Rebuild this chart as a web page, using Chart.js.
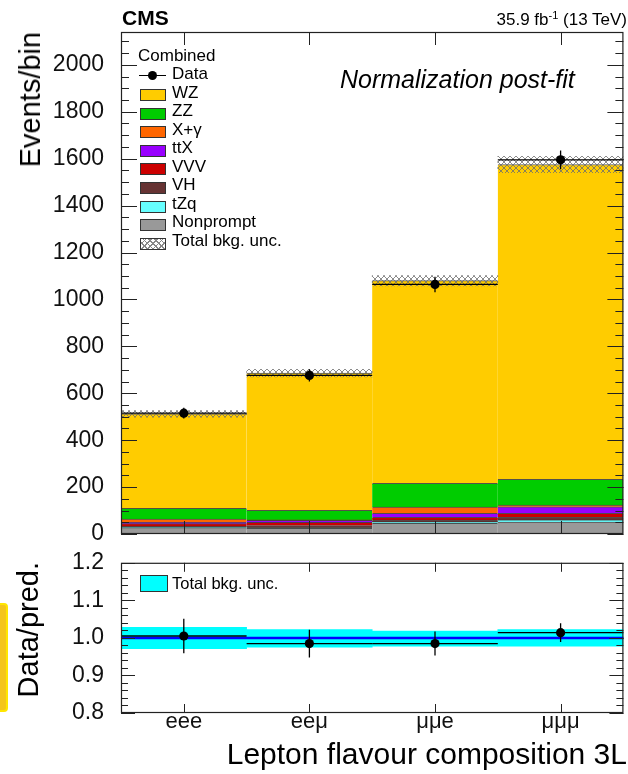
<!DOCTYPE html>
<html>
<head>
<meta charset="utf-8">
<script src="https://cdn.jsdelivr.net/npm/chart.js@4.4.1/dist/chart.umd.min.js"></script>
<style>
  html, body { margin: 0; padding: 0; background: #fff; }
  #wrap { position: relative; width: 628px; height: 774px; overflow: hidden; font-family: "Liberation Sans", Arial, sans-serif; color: #000; }
  canvas { position: absolute; left: 0; }
  .txt { position: absolute; white-space: nowrap; }
  .vtitle { position: absolute; writing-mode: vertical-rl; transform: rotate(180deg); font-size: 29px; line-height: 29px; white-space: nowrap; }
  #legend { position: absolute; left: 138px; top: 46.5px; font-size: 17px; }
  #legend .row { position: relative; height: 18.56px; line-height: 18.56px; padding-left: 34px; }
  #legend .row.head { padding-left: 0; }
  #legend .box { position: absolute; left: 2px; top: 5.7px; width: 24px; height: 10px; border: 1px solid #333; }
  #legend .dline { position: absolute; left: 1px; top: 9.5px; width: 27px; height: 1.5px; background: #000; }
  #legend .dot { position: absolute; left: 10px; top: 5.5px; width: 9px; height: 9px; border-radius: 50%; background: #000; }
  .hatch { background-color: #fff;
    background-image: repeating-linear-gradient(45deg, #888 0 1px, transparent 1px 4px),
                      repeating-linear-gradient(-45deg, #888 0 1px, transparent 1px 4px); }
</style>
</head>
<body>
<div id="wrap">
  <canvas id="main" width="628" height="560" style="top:0"></canvas>
  <canvas id="ratio" width="628" height="234" style="top:540px"></canvas>

  <div class="txt" style="left:122px; top:7px; font-size:21px; line-height:21px; font-weight:bold;">CMS</div>
  <div class="txt" style="right:1px; top:11px; font-size:17px; line-height:17px;">35.9 fb<sup style="font-size:11px; vertical-align:6px; line-height:0">-1</sup> (13 TeV)</div>
  <div class="txt" style="left:340px; top:67px; font-size:25px; line-height:25px; font-style:italic;">Normalization post-fit</div>

  <div class="vtitle" style="left:16px; top:32px;">Events/bin</div>
  <div class="vtitle" style="left:14px; top:562px;">Data/pred.</div>
  <div class="txt" style="right:1px; top:739px; font-size:30px; line-height:30px;">Lepton flavour composition 3L</div>

  <div id="legend"></div>

  <div style="position:absolute; left:140px; top:575px; width:26px; height:15px; border:1px solid #333; background:#00ffff;"></div>
  <div class="txt" style="left:172px; top:574.5px; font-size:16.5px; line-height:16.5px;">Total bkg. unc.</div>

  <div style="position:absolute; left:-7px; top:603px; width:11px; height:105px; border:2px solid #ffe600; border-radius:4px; background:#f4c51c;"></div>
</div>

<script>
// bins
const bins = ['eee', 'eeμ', 'μμe', 'μμμ'];

// stacked backgrounds (events per bin), bottom to top
const nonprompt = [27, 24, 45, 51];
const tzq = [2, 2, 7, 9];
const vh = [5, 10, 8, 11];
const vvv = [10, 14, 11, 17];
const ttx = [6, 8, 17, 28];
const xgamma = [14, 2, 27, 7];
const zz = [45, 41, 101, 110];
const wz = [403, 585, 864, 1342];

// data
const dataCounts = [515, 676, 1064, 1595];
const dataErr = [23, 26, 33, 40];

// total background uncertainty band
const bkgLo = [498, 670, 1058, 1540];
const bkgHi = [526, 702, 1102, 1610];

// ratio panel
const ratio = [1.005, 0.985, 0.985, 1.014];
const ratioErr = [0.046, 0.037, 0.032, 0.025];
const ratioBandLo = [0.971, 0.975, 0.978, 0.978];
const ratioBandHi = [1.028, 1.022, 1.018, 1.022];

// axis ticks
const yTicks = [0, 200, 400, 600, 800, 1000, 1200, 1400, 1600, 1800, 2000];
const ratioTicks = [0.8, 0.9, 1.0, 1.1, 1.2];

// stack order, bottom first; legend shows it reversed
const stack = [
  { label: 'Nonprompt', color: '#999999', values: nonprompt },
  { label: 'tZq', color: '#66ffff', values: tzq },
  { label: 'VH', color: '#663333', values: vh },
  { label: 'VVV', color: '#cc0000', values: vvv },
  { label: 'ttX', color: '#9900ff', values: ttx },
  { label: 'X+γ', color: '#ff6600', values: xgamma },
  { label: 'ZZ', color: '#00cc00', values: zz },
  { label: 'WZ', color: '#ffcc00', values: wz },
];

// html legend
const leg = document.getElementById('legend');
let html = '<div class="row head">Combined</div>';
html += '<div class="row"><span class="dline"></span><span class="dot"></span>Data</div>';
stack.slice().reverse().forEach(s => {
  html += '<div class="row"><span class="box" style="background:' + s.color + '"></span>' + s.label + '</div>';
});
html += '<div class="row"><span class="box hatch"></span>Total bkg. unc.</div>';
leg.innerHTML = html;

function hatchPattern() {
  const c = document.createElement('canvas');
  c.width = 6; c.height = 6;
  const g = c.getContext('2d');
  g.strokeStyle = 'rgba(110,110,110,0.8)';
  g.lineWidth = 1;
  g.beginPath();
  g.moveTo(0, 0); g.lineTo(6, 6);
  g.moveTo(6, 0); g.lineTo(0, 6);
  g.stroke();
  return g.createPattern(c, 'repeat');
}

// ROOT-like frame, inward ticks, error bars, reference line
const rootStyle = {
  id: 'rootStyle',
  afterDatasetDraw(chart, args, opts) {
    if (opts.refLine === undefined || args.index !== opts.refAfter) return;
    const ctx = chart.ctx, a = chart.chartArea;
    const y = chart.scales.y.getPixelForValue(opts.refLine);
    ctx.save();
    ctx.strokeStyle = '#0000ff';
    ctx.lineWidth = 2.5;
    ctx.beginPath(); ctx.moveTo(a.left, y); ctx.lineTo(a.right, y); ctx.stroke();
    ctx.restore();
  },
  afterDatasetsDraw(chart, args, opts) {
    const eb = opts.err;
    if (!eb) return;
    const ctx = chart.ctx;
    const meta = chart.getDatasetMeta(eb.index);
    const xs = chart.scales[meta.xAxisID], ys = chart.scales[meta.yAxisID];
    ctx.save();
    ctx.strokeStyle = '#000';
    ctx.lineWidth = 1.3;
    eb.values.forEach((v, i) => {
      const x = xs.getPixelForValue(i);
      const y = ys.getPixelForValue(v);
      ctx.beginPath();
      ctx.moveTo(x, ys.getPixelForValue(v - eb.errs[i]));
      ctx.lineTo(x, ys.getPixelForValue(v + eb.errs[i]));
      ctx.moveTo(xs.getPixelForValue(i - 0.5), y);
      ctx.lineTo(xs.getPixelForValue(i + 0.5), y);
      ctx.stroke();
    });
    ctx.restore();
  },
  afterDraw(chart, args, opts) {
    const ctx = chart.ctx, a = chart.chartArea;
    const ys = chart.scales.y, xs = chart.scales.x;
    ctx.save();
    ctx.strokeStyle = '#222';
    ctx.lineWidth = 1;
    ctx.beginPath();
    const tick = (x0, y0, x1, y1) => { ctx.moveTo(x0, y0); ctx.lineTo(x1, y1); };
    opts.major.forEach(v => {
      const y = Math.round(ys.getPixelForValue(v)) + 0.5;
      tick(a.left, y, a.left + opts.majorLen, y);
      tick(a.right, y, a.right - opts.majorLen, y);
    });
    for (let v = ys.min; v <= ys.max + 1e-9; v += opts.minorStep) {
      const y = Math.round(ys.getPixelForValue(v)) + 0.5;
      tick(a.left, y, a.left + opts.minorLen, y);
      tick(a.right, y, a.right - opts.minorLen, y);
    }
    bins.forEach((b, i) => {
      const x = Math.round(xs.getPixelForValue(i)) + 0.5;
      tick(x, a.bottom, x, a.bottom - opts.xLen);
      tick(x, a.top, x, a.top + opts.xLen);
    });
    ctx.stroke();
    ctx.lineWidth = 1.2;
    ctx.strokeRect(a.left + 0.5, a.top + 0.5, a.right - a.left - 1, a.bottom - a.top - 1);
    ctx.restore();
  }
};

const tickFont = { family: 'Liberation Sans', size: 23 };

new Chart(document.getElementById('main'), {
  type: 'bar',
  plugins: [rootStyle],
  data: {
    labels: bins,
    datasets: [
      {
        type: 'line', label: 'Data', data: dataCounts, xAxisID: 'xb', yAxisID: 'yb',
        showLine: false, pointRadius: 4.6, pointHoverRadius: 4.6,
        pointBackgroundColor: '#000', pointBorderWidth: 0
      },
      {
        label: 'Total bkg. unc.', xAxisID: 'xb', yAxisID: 'yb',
        data: bkgLo.map((lo, i) => [lo, bkgHi[i]]),
        backgroundColor: hatchPattern(), borderWidth: 0,
        grouped: false, categoryPercentage: 1, barPercentage: 1
      },
      ...stack.map(s => ({
        label: s.label, data: s.values, backgroundColor: s.color,
        borderColor: 'rgba(40,40,40,0.8)', borderWidth: { top: 1, left: 0, right: 0, bottom: 0 },
        grouped: false, categoryPercentage: 1, barPercentage: 1
      }))
    ]
  },
  options: {
    responsive: false,
    animation: false,
    layout: { padding: { left: 0, right: 1, top: 32, bottom: 26 } },
    plugins: {
      legend: { display: false },
      tooltip: { enabled: false },
      rootStyle: { major: yTicks, minorStep: 50, majorLen: 16, minorLen: 8, xLen: 13,
                   err: { index: 0, values: dataCounts, errs: dataErr } }
    },
    scales: {
      x: { stacked: true, display: false, offset: true },
      xb: { type: 'category', labels: bins, display: false, offset: true },
      y: {
        stacked: true, min: 0, max: 2140,
        grid: { display: false }, border: { display: false },
        afterBuildTicks: s => { s.ticks = yTicks.map(v => ({ value: v })); },
        afterFit: s => { s.width = 121; },
        ticks: { font: tickFont, color: '#111', padding: 9, callback: v => String(v) }
      },
      yb: { display: false, min: 0, max: 2140 }
    }
  }
});

new Chart(document.getElementById('ratio'), {
  type: 'bar',
  plugins: [rootStyle],
  data: {
    labels: bins,
    datasets: [
      {
        type: 'line', label: 'Data/pred.', data: ratio,
        showLine: false, pointRadius: 4.6, pointHoverRadius: 4.6,
        pointBackgroundColor: '#000', pointBorderWidth: 0
      },
      {
        label: 'Total bkg. unc.', data: ratioBandLo.map((lo, i) => [lo, ratioBandHi[i]]),
        backgroundColor: '#00ffff', borderWidth: 0,
        grouped: false, categoryPercentage: 1, barPercentage: 1
      }
    ]
  },
  options: {
    responsive: false,
    animation: false,
    layout: { padding: { left: 0, right: 1, top: 22, bottom: 0 } },
    plugins: {
      legend: { display: false },
      tooltip: { enabled: false },
      rootStyle: { major: ratioTicks, minorStep: 0.02, majorLen: 14, minorLen: 7, xLen: 9,
                   refLine: 1.0, refAfter: 1,
                   err: { index: 0, values: ratio, errs: ratioErr } }
    },
    scales: {
      x: {
        offset: true,
        grid: { display: false }, border: { display: false },
        afterFit: s => { s.height = 61; },
        ticks: { font: { family: 'Liberation Sans', size: 22 }, color: '#111', padding: -12 }
      },
      y: {
        min: 0.8, max: 1.2,
        grid: { display: false }, border: { display: false },
        afterBuildTicks: s => { s.ticks = ratioTicks.map(v => ({ value: v })); },
        afterFit: s => { s.width = 121; },
        ticks: { font: tickFont, color: '#111', padding: 9, callback: v => Number(v).toFixed(1) }
      }
    }
  }
});
</script>
</body>
</html>
